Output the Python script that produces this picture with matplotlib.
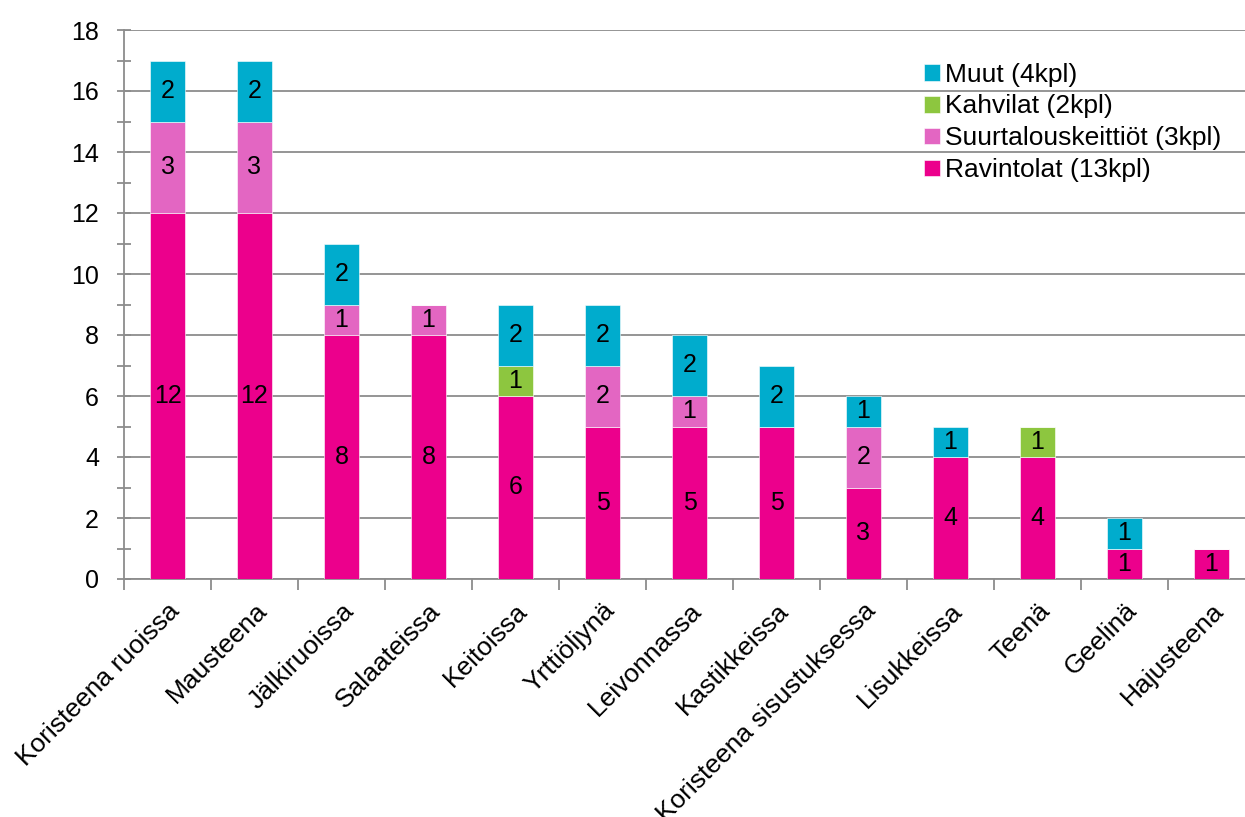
import matplotlib
matplotlib.use("Agg")
import matplotlib.pyplot as plt
import numpy as np
from matplotlib.ticker import MultipleLocator

categories = ["Koristeena ruoissa", "Mausteena", "Jälkiruoissa", "Salaateissa",
              "Keitoissa", "Yrttiöljynä", "Leivonnassa", "Kastikkeissa",
              "Koristeena sisustuksessa", "Lisukkeissa", "Teenä", "Geelinä",
              "Hajusteena"]
ravintolat = [12, 12, 8, 8, 6, 5, 5, 5, 3, 4, 4, 1, 1]
suurtalous = [3, 3, 1, 1, 0, 2, 1, 0, 2, 0, 0, 0, 0]
kahvilat = [0, 0, 0, 0, 1, 0, 0, 0, 0, 0, 1, 0, 0]
muut = [2, 2, 2, 0, 2, 2, 2, 2, 1, 1, 0, 1, 0]

series = [
    ("Ravintolat (13kpl)", ravintolat, "#EC008C"),
    ("Suurtalouskeittiöt (3kpl)", suurtalous, "#E366C2"),
    ("Kahvilat (2kpl)", kahvilat, "#8DC63F"),
    ("Muut (4kpl)", muut, "#00ACCD"),
]

plt.rcParams["font.family"] = ["Liberation Sans", "DejaVu Sans"]
FS = 18
FS_TEXT = 19

fig = plt.figure(figsize=(12.45, 8.17), dpi=100)
W, H = 1245, 817
ax = fig.add_axes([124 / W, (H - 579) / H, (1255 - 124) / W, (579 - 30) / H])

x = np.arange(len(categories))
bottom = np.zeros(len(categories))
handles = []
for name, vals, color in series:
    vals = np.array(vals, dtype=float)
    bars = ax.bar(x, vals, width=0.4, bottom=bottom, color=color,
                  edgecolor="white", linewidth=0.4, label=name, zorder=3)
    handles.append(bars)
    for xi, v, b in zip(x, vals, bottom):
        if v > 0:
            ax.text(xi, b + v / 2, f"{int(v)}", ha="center", va="center",
                    fontsize=FS, color="black", zorder=4)
    bottom += vals

ax.set_xlim(-0.5, len(categories) - 0.5)
ax.set_ylim(0, 18)
ax.yaxis.set_major_locator(MultipleLocator(2))
ax.yaxis.set_minor_locator(MultipleLocator(1))
ax.grid(axis="y", which="major", color="#8C8C8C", linewidth=1.3, zorder=0)

for side in ["top", "right"]:
    ax.spines[side].set_visible(False)
for side in ["left", "bottom"]:
    ax.spines[side].set_color("#8C8C8C")
    ax.spines[side].set_linewidth(1.3)

ax.tick_params(axis="y", which="both", direction="inout", length=10, width=1.3,
               color="#8C8C8C", labelsize=FS, pad=13)
ax.set_xticks(np.arange(len(categories) + 1) - 0.5, minor=True)
ax.set_xticks(x)
ax.tick_params(axis="x", which="major", length=0, pad=14)
ax.tick_params(axis="x", which="minor", direction="out", length=8, width=1.3,
               color="#8C8C8C")
ax.set_xticklabels(categories, rotation=45, ha="right", va="top",
                   rotation_mode="anchor", fontsize=FS_TEXT)

ax.legend(handles[::-1], [s[0] for s in series][::-1],
          loc="upper left", bbox_to_anchor=(0.698, 0.96), frameon=False,
          fontsize=FS_TEXT, handlelength=0.6, handleheight=0.6,
          handletextpad=0.2, labelspacing=0.3, borderaxespad=0)

fig.savefig("out.png", dpi=100, facecolor="white")
